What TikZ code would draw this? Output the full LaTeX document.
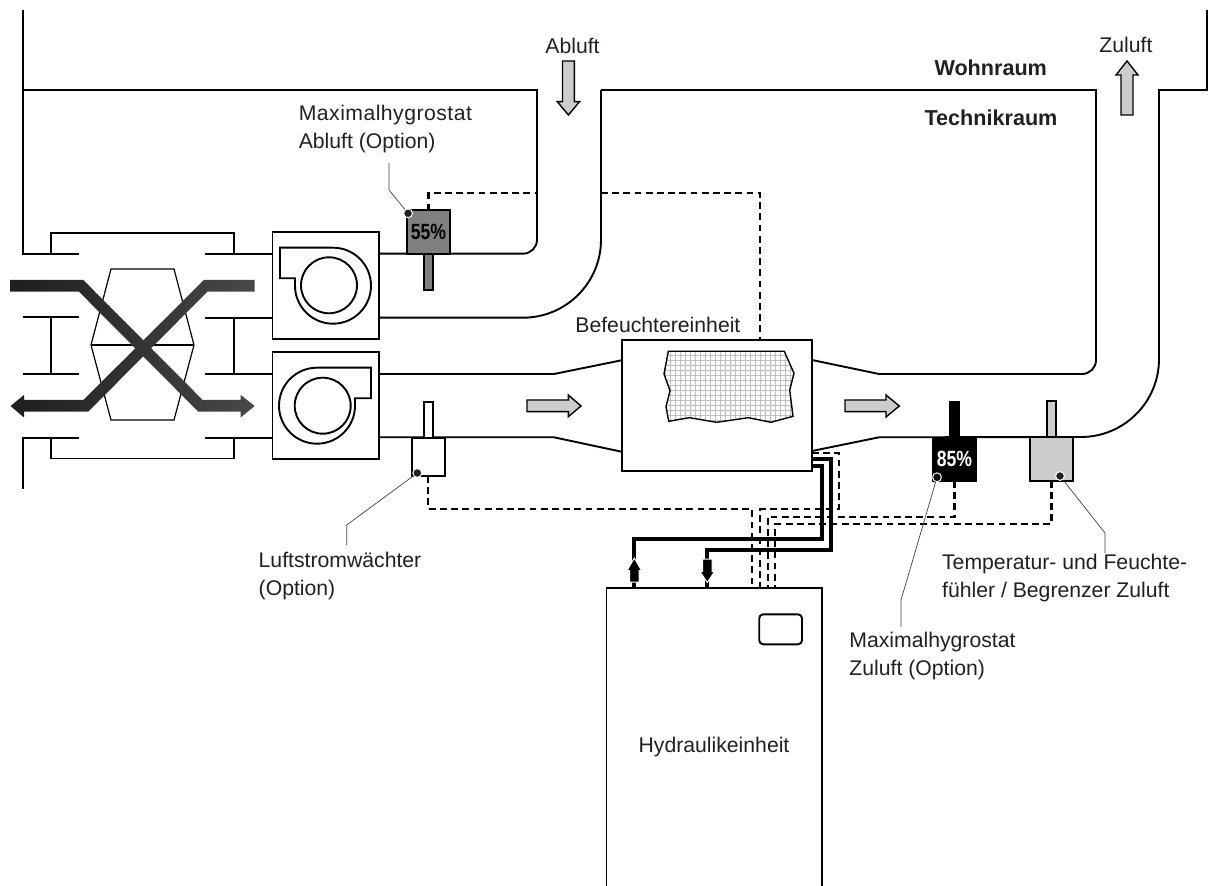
\documentclass[tikz,border=0pt]{standalone}
\usepackage{xcolor}
\usepackage{fontspec}
\setmainfont{Liberation Sans}
\newfontfamily\narrowbold[FakeStretch=0.8]{Liberation Sans Bold}
\usetikzlibrary{positioning}
\definecolor{textdark}{HTML}{231F20}
\definecolor{airgrey}{HTML}{CCCCCC}
\definecolor{sensorgrey}{HTML}{808080}
\definecolor{meshgrey}{HTML}{BEBEBE}
\definecolor{bandblack}{HTML}{1E1E1E}
\definecolor{bandgrey}{HTML}{484848}

\begin{document}
\begin{tikzpicture}[
    x=0.5pt, y=-0.5pt,
    duct/.style={line width=0.95pt},
    thinline/.style={line width=0.6pt},
    wire/.style={line width=1.1pt, dash pattern=on 3.4pt off 2.2pt},
    pipe/.style={line width=2pt, line join=miter},
    leader/.style={line width=0.35pt, draw=textdark!85},
    airarrow/.style={draw=black, line width=0.7pt, fill=airgrey, line join=miter},
    pipetip/.style={draw=white, line width=0.5pt, fill=black},
    unitbox/.style={
        draw, rectangle, fill=white, line width=0.95pt,
        inner sep=0pt, outer sep=0pt,
    },
    sensorbox/.style={
        unitbox, minimum width=21.8pt, minimum height=21.8pt,
        font=\narrowbold\fontsize{11}{13}\selectfont,
    },
    probe/.style={
        unitbox, minimum width=4.6pt, minimum height=18pt,
        above=0pt of #1,
    },
    tagdot/.style={
        circle, fill=textdark, draw=white, line width=0.5pt,
        inner sep=0pt, minimum size=4.4pt,
    },
    note/.style={
        text=textdark, align=left, anchor=west, inner sep=0pt,
        font=\fontsize{10.6}{14}\selectfont,
    },
    roomname/.style={
        text=textdark, inner sep=0pt,
        font=\bfseries\fontsize{10.8}{12}\selectfont,
    },
]
\useasboundingbox (0,0) rectangle (1208,886);

% Walls and ducts
\draw[duct] (22.7,10) -- (22.7,253.7) -- (79,253.7);
\draw[duct] (22.7,90) -- (537,90) -- (537,239.7)
    arc[start angle=0, end angle=90, radius=14] -- (379,253.7);
\draw[duct] (601,90) -- (1096,90) -- (1096,360)
    arc[start angle=0, end angle=90, radius=14] -- (879,374) -- (812,360);
\draw[duct] (601,90) -- (601,239.7)
    arc[start angle=0, end angle=90, radius=78] -- (379,317.7);
\draw[duct] (1207,10) -- (1207,90) -- (1159,90) -- (1159,359)
    arc[start angle=0, end angle=90, radius=78] -- (879,437.3) -- (812,451);
\draw[duct] (379,374) -- (554,374) -- (621.5,360.3);
\draw[duct] (379,437.3) -- (554,437.3) -- (621.5,451.7);
\draw[duct] (22.7,489) -- (22.7,438) -- (79,438);
\draw[duct] (22.7,317) -- (79,317);
\draw[duct] (22.7,374) -- (79,374);
\draw[duct] (205,253.7) -- (272.5,253.7);
\draw[duct] (205,317.7) -- (272.5,317.7);
\draw[duct] (205,374) -- (272.5,374);
\draw[duct] (205,438) -- (272.5,438);

% Heat exchanger
\draw[duct] (50.7,253.7) -- (50.7,233) -- (234,233) -- (234,253.7);
\draw[duct] (50.7,317) -- (50.7,374);
\draw[duct] (234,317.7) -- (234,374);
\draw[duct] (50.7,438) -- (50.7,458.5) -- (234,458.5) -- (234,438);
\draw[thinline] (111,269) -- (174,269) -- (194,345) -- (174,420) -- (111,420) -- (91,345) -- cycle;
\draw[thinline] (91,345) -- (194,345);
\path[left color=bandblack, middle color=bandgrey, right color=bandgrey]
    (254.7,280) -- (204,280) -- (83.3,400) -- (24,400) -- (24,395) -- (10.5,406) -- (24,417.5)
    -- (24,411.7) -- (88.3,411.7) -- (207.3,291.7) -- (254.7,291.7) -- cycle;
\path[left color=bandblack, middle color=bandblack, right color=bandgrey]
    (10,280) -- (83.3,280) -- (202.7,400) -- (240.7,400) -- (240.7,395) -- (254.7,406)
    -- (240.7,417.5) -- (240.7,411.7) -- (198.3,411.7) -- (79,291.7) -- (10,291.7) -- cycle;

% Fans
\node[unitbox, minimum width=53.4pt, minimum height=53.2pt] (fanexh) at (325.9,285.5) {};
\node[unitbox, minimum width=53.4pt, minimum height=53.4pt] (fansup) at (325.9,405.8) {};
\draw[duct] (280,247.7) -- (333,247.7) arc[start angle=-90, end angle=180, radius=38]
    -- (295,278.3) -- (280,278.3) -- cycle;
\draw[duct] (329,285.3) circle[radius=28];
\draw[duct] (371,367.7) -- (317,367.7) arc[start angle=-90, end angle=-360, radius=38]
    -- (355,398.3) -- (371,398.3) -- cycle;
\draw[duct] (322.7,405.7) circle[radius=28];

% Humidifier
\node[unitbox, minimum width=95pt, minimum height=65.6pt] (humid) at (716.7,405.7) {};
\begin{scope}
    \clip (668.3,351.3) -- (784.3,351.3) -- (794,373.3) -- (789.7,390) -- (793,416.3) -- (771,422.3)
        -- (748.3,417.7) -- (716.7,422.3) -- (689.3,417.7) -- (668.7,421.3) -- (666,406.7)
        -- (670,390.7) -- (664,374) -- cycle;
    \foreach \gridx in {660,665,...,800} \draw[meshgrey, line width=0.4pt] (\gridx,350) -- (\gridx,425);
    \foreach \gridy in {350,355,...,425} \draw[meshgrey, line width=0.4pt] (660,\gridy) -- (800,\gridy);
\end{scope}
\draw[thinline, line width=0.7pt] (668.3,351.3) -- (784.3,351.3) -- (794,373.3) -- (789.7,390) -- (793,416.3) -- (771,422.3)
    -- (748.3,417.7) -- (716.7,422.3) -- (689.3,417.7) -- (668.7,421.3) -- (666,406.7)
    -- (670,390.7) -- (664,374) -- cycle;

% Hydraulics
\coordinate (hydleft) at (606.5,886);
\coordinate (hydright) at (822,886);
\coordinate (hydtop) at (714,587.7);
\draw[duct] (hydleft) |- (hydtop) -| (hydright);
\node[unitbox, rounded corners=2pt, minimum width=21.4pt, minimum height=15pt] (display) at (780.6,629.3) {};
\node[text=textdark, inner sep=0pt, font=\fontsize{10.6}{14}\selectfont] (hydtxt) at (714,746.7) {Hydraulikeinheit};

% Sensors
\node[sensorbox, fill=sensorgrey, text=black] (hygroexh) at (428.5,232.2) {55\%};
\node[unitbox, fill=sensorgrey, minimum width=4.8pt, minimum height=18pt, below=0pt of hygroexh] (probeexh) {};
\node[sensorbox, minimum width=16.7pt, minimum height=19.2pt] (airflow) at (428.3,456.9) {};
\node[probe=airflow] (probeflow) {};
\node[sensorbox, fill=black, text=white] (hygrosup) at (954.5,459.3) {85\%};
\node[probe=hygrosup, fill=black, minimum width=5pt] (probehyg) {};
\node[sensorbox, fill=airgrey] (tempsens) at (1051.5,459) {};
\node[probe=tempsens, fill=airgrey] (probetemp) {};

% Signal wires
\coordinate (wallexh) at (537,193.3);
\coordinate (wallsup) at (601,193.3);
\coordinate (port1) at (752.3,587.7);
\coordinate (port2) at (760,587.7);
\coordinate (port3) at (767.7,587.7);
\coordinate (port4) at (775,587.7);
\coordinate (humidout) at (811.7,453.3);
\draw[wire] (hygroexh.north) |- (wallexh);
\draw[wire] (wallsup) -| (humid.north -| 760,0);
\draw[wire] (airflow.south) |- (752.3,509.3) -- (port1);
\draw[wire] (humidout) -- (839,453.3) -- (839,509.3) -- (760,509.3) -- (port2);
\draw[wire] (hygrosup.south) |- (767.7,516.7) -- (port3);
\draw[wire] (tempsens.south) |- (775,524.3) -- (port4);

% Water pipes
\coordinate (pipereturn) at (811.7,465.7);
\coordinate (pipefeed) at (811.7,459);
\coordinate (portret) at (634.3,588);
\coordinate (portfeed) at (707.3,588);
\draw[pipe] (pipereturn) -- (822,465.7) -- (822,539) -- (634.3,539) -- (portret);
\draw[pipe] (pipefeed) -- (830.7,459) -- (830.7,549.7) -- (707.3,549.7) -- (portfeed);
\draw[pipetip] (634.3,558) -- (641.5,570.5) -- (639,570.5) -- (639,582) -- (629.6,582) -- (629.6,570.5) -- (627.1,570.5) -- cycle;
\draw[pipetip] (702.6,559) -- (712,559) -- (712,571.7) -- (714.5,571.7) -- (707.3,582.5) -- (700.1,571.7) -- (702.6,571.7) -- cycle;

% Air direction arrows
\draw[airarrow] (527,400) -- (568.3,400) -- (568.3,395) -- (581,406) -- (568.3,416.7) -- (568.3,411.7) -- (527,411.7) -- cycle;
\draw[airarrow] (845,400) -- (886,400) -- (886,395) -- (899.3,406) -- (886,417) -- (886,411.7) -- (845,411.7) -- cycle;
\draw[airarrow] (562.5,61) -- (574.3,61) -- (574.3,101.7) -- (579.5,101.7) -- (568.4,115) -- (557.3,101.7) -- (562.5,101.7) -- cycle;
\draw[airarrow] (1127,61) -- (1138,75) -- (1133,75) -- (1133,115) -- (1121,115) -- (1121,75) -- (1116,75) -- cycle;

% Leader lines and dots
\node[tagdot] (dotexh) at (408,213.3) {};
\node[tagdot] (dotflow) at (417.3,473) {};
\node[tagdot, fill=black] (dothyg) at (937,477.3) {};
\node[tagdot] (dottemp) at (1060,476) {};
\coordinate (tagexh) at (389,163);
\coordinate (tagflow) at (346.7,545);
\coordinate (taghyg) at (901,627);
\coordinate (tagtemp) at (1105,553);
\draw[leader] (dotexh) -- (389,190) -- (tagexh);
\draw[leader] (dotflow) -- (346.7,525) -- (tagflow);
\draw[leader] (dothyg) -- (901,600) -- (taghyg);
\draw[leader] (dottemp) -- (1105,533) -- (tagtemp);

% Labels
\node[note] (abluft) at (545,46) {Abluft};
\node[note] (zuluft) at (1099,45) {Zuluft};
\node[roomname] (wohnraum) at (990.7,67.7) {Wohnraum};
\node[roomname] (technik) at (991,117.7) {Technikraum};
\node[note] (hygroexhtxt) at (298.4,129) {{\addfontfeature{LetterSpace=2.2}Maximalhygrostat}\\Abluft (Option)};
\node[note] (humidtxt) at (575,325) {Befeuchtereinheit};
\node[note] (airflowtxt) at (258.3,576) {Luftstromwächter\\(Option)};
\node[note] (temptxt) at (941.7,578.5) {Temperatur- und Feuchte-\\fühler / Begrenzer Zuluft};
\node[note] (hygrosuptxt) at (849,656) {Maximalhygrostat\\Zuluft (Option)};

\end{tikzpicture}
\end{document}
